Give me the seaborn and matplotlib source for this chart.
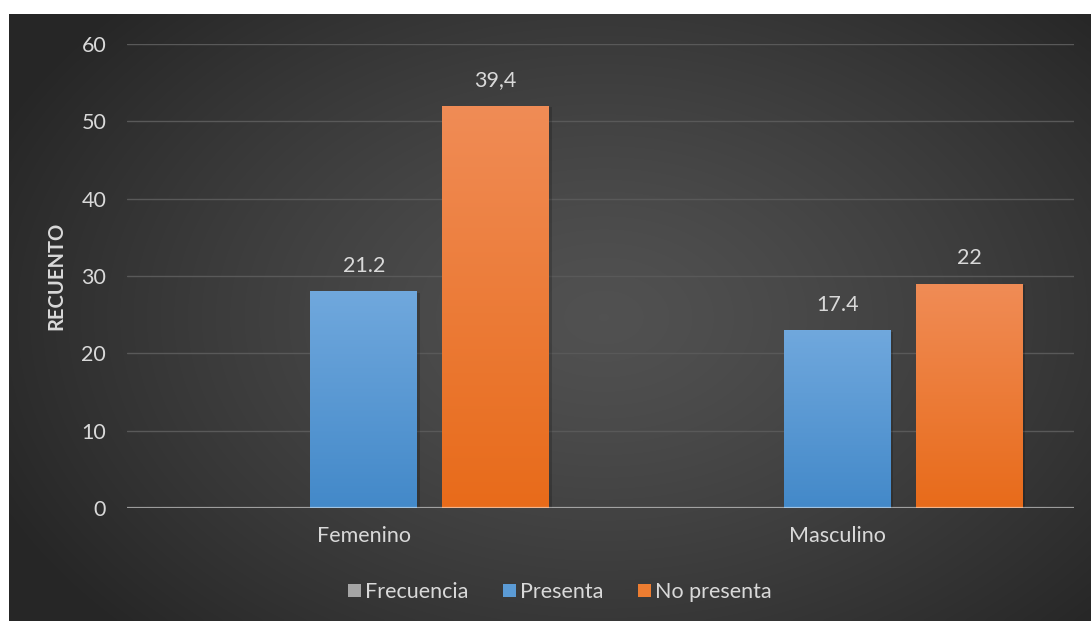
import numpy as np
import pandas as pd
import seaborn as sns
import matplotlib
matplotlib.use("Agg")
import matplotlib.pyplot as plt
from matplotlib.patches import Patch
import matplotlib.patheffects as pe
from matplotlib.colors import to_rgb

# ---- data -------------------------------------------------------------
sexo = ["Femenino", "Masculino"]
series = ["Frecuencia", "Presenta", "No presenta"]
frecuencia = [0, 0]
presenta = [28, 23]
no_presenta = [52, 29]
# percentage labels printed above the bars
etiqueta_presenta = ["21.2", "17.4"]
etiqueta_no_presenta = ["39,4", "22"]
yticks = [0, 10, 20, 30, 40, 50, 60]

df = pd.DataFrame({
    "sexo": sexo * 3,
    "serie": [s for s in series for _ in sexo],
    "recuento": frecuencia + presenta + no_presenta,
})

# ---- styling ----------------------------------------------------------
sns.set_theme(style="dark")
plt.rcParams["font.family"] = ["Lato", "DejaVu Sans"]
TXT = "#d9d9d9"
FS = 15.5
palette = {"Frecuencia": "#a5a5a5", "Presenta": "#5b9bd5", "No presenta": "#ed7d31"}
grad = {
    "Frecuencia": ("#b5b5b5", "#8f8f8f"),
    "Presenta": ("#70a8dd", "#4389c9"),
    "No presenta": ("#f08c56", "#e86b1a"),
}

W, H = 1091, 621
fig = plt.figure(figsize=(W / 100, H / 100), dpi=100, facecolor="white")

# dark radial background panel
bg_ax = fig.add_axes([9 / W, 0, (W - 9) / W, (H - 14) / H], zorder=-10)
gx, gy = np.meshgrid(np.linspace(0, 1, 400), np.linspace(0, 1, 240))
r = np.sqrt(((gx - 0.55) / 0.62) ** 2 + ((gy - 0.5) / 0.75) ** 2)
r = np.clip(r, 0, 1)
lum = (0.318 - (0.318 - 0.150) * r ** 1.3)
bg_ax.imshow(np.dstack([lum, lum, lum]), aspect="auto", extent=(0, 1, 0, 1),
             interpolation="bicubic")
bg_ax.set_axis_off()

ax = fig.add_axes([127 / W, 1 - 508 / H, (1074 - 127) / W, (508 - 44) / H])
ax.patch.set_alpha(0)

sns.barplot(data=df, x="sexo", y="recuento", hue="serie", hue_order=series,
            order=sexo, palette=palette, width=0.836, gap=0.19, linewidth=0,
            errorbar=None, legend=False, ax=ax)

ax.set_ylim(0, 60)
ax.set_yticks(yticks)
ax.grid(axis="y", color="#595959", linewidth=1.0, zorder=0)
ax.grid(axis="x", visible=False)
ax.set_axisbelow(True)
for s in ax.spines.values():
    s.set_visible(False)
ax.axhline(0, color="white", alpha=0.5, linewidth=1.6, zorder=5)

ax.tick_params(axis="both", length=0, colors=TXT, labelsize=FS)
ax.tick_params(axis="y", pad=15)
ax.tick_params(axis="x", pad=13)
ax.set_xlabel("")
ax.set_ylabel("RECUENTO", fontsize=14.5, fontweight="bold", color=TXT)
ax.yaxis.set_label_coords(-0.064, 0.5)

# vertical gradient fill + soft shadow for each bar
labels = {"Presenta": etiqueta_presenta, "No presenta": etiqueta_no_presenta}
for name, cont in zip(series, ax.containers):
    top, bot = (np.array(to_rgb(c)) for c in grad[name])
    t = np.linspace(0, 1, 128)[:, None, None]
    img = top[None, None, :] * (1 - t) + bot[None, None, :] * t
    for i, bar in enumerate(cont):
        h = bar.get_height()
        if h <= 0:
            bar.set_visible(False)
            continue
        bar.set_path_effects([pe.SimplePatchShadow(offset=(2.0, -1.0), alpha=0.18,
                                                   shadow_rgbFace="black"),
                              pe.Normal()])
        x0 = bar.get_x()
        x1 = x0 + bar.get_width()
        im = ax.imshow(img, extent=(x0, x1, 0, h), aspect="auto", origin="upper",
                       zorder=bar.get_zorder() + 0.1, interpolation="bilinear")
        im.set_clip_path(bar)
        if name in labels:
            ax.annotate(labels[name][i], (bar.get_x() + bar.get_width() / 2, h),
                        xytext=(0, 11), textcoords="offset points",
                        ha="center", va="bottom", color=TXT, fontsize=FS)

ax.set_xlim(-0.5, 1.5)

handles = [Patch(facecolor=palette[s], edgecolor="none") for s in series]
fig.legend(handles, series, loc="center", bbox_to_anchor=(560 / W, 1 - 592 / H),
           ncol=3, frameon=False, handlelength=0.6, handleheight=0.6,
           handletextpad=0.2, columnspacing=1.6, fontsize=FS, labelcolor=TXT)

fig.savefig("out.png", dpi=100, facecolor="white")
